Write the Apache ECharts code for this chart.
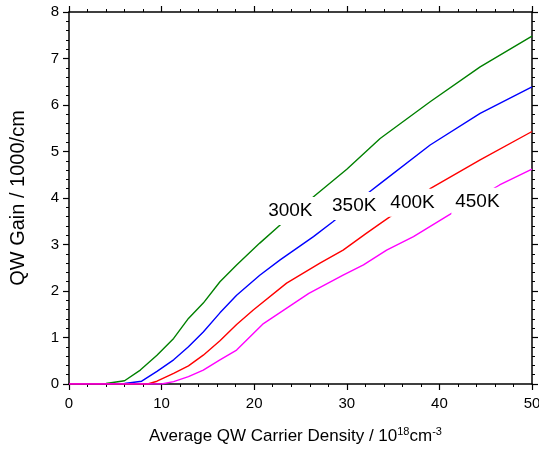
<!DOCTYPE html>
<html>
<head>
<meta charset="utf-8">
<script src="https://cdn.jsdelivr.net/npm/echarts@6/dist/echarts.min.js"></script>
<style>
html, body { margin: 0; padding: 0; background: #fff; }
#main { width: 539px; height: 451px; }
</style>
</head>
<body>
<div id="main"></div>
<script>
// curves: [density, gain]
var g300 = [[0,0],[2,0],[4,0.01],[6,0.07],[7.7,0.3],[9.5,0.62],[11.3,0.98],[12.9,1.41],[14.5,1.74],[16.3,2.2],[18.1,2.56],[20.6,3.03],[22.8,3.42],[26.6,4.06],[30,4.62],[33.6,5.28],[39,6.07],[44.4,6.82],[50,7.48]];
var g350 = [[0,0],[4,0],[6,0.01],[7.85,0.06],[9.5,0.27],[11.3,0.52],[12.9,0.8],[14.5,1.12],[16.3,1.53],[18.1,1.91],[20.6,2.34],[22.8,2.67],[26.4,3.17],[28.5,3.49],[32.5,4.14],[33.6,4.31],[39,5.14],[44.4,5.82],[50,6.39]];
var g400 = [[0,0],[6,0],[8.5,0],[9.5,0.06],[11.3,0.23],[12.9,0.39],[14.5,0.62],[16.3,0.93],[18.1,1.28],[19.9,1.59],[23.5,2.17],[27.1,2.6],[29.6,2.88],[32.1,3.24],[33.6,3.45],[39,4.2],[44.4,4.82],[50,5.43]];
var g450 = [[0,0],[8,0],[10,0],[11.3,0.05],[12.9,0.16],[14.5,0.3],[16.3,0.52],[18.1,0.73],[21,1.3],[25.9,1.95],[29.6,2.34],[31.8,2.56],[34.3,2.88],[37.2,3.17],[41,3.63],[46.5,4.28],[50,4.62]];
var names = ['300K', '350K', '400K', '450K'];
var labelPos = [[23.9, 3.72], [30.8, 3.83], [37.1, 3.9], [44.1, 3.92]];
var colors = ['#008000', '#0000ff', '#ff0000', '#ff00ff'];

var font = 'Liberation Sans, Arial, sans-serif';
var myChart = echarts.init(document.getElementById('main'));

function axisCommon(show) {
    return {
        axisLine: {show: true, onZero: false, lineStyle: {color: '#000', width: 1.5}},
        axisTick: {show: true, inside: false, length: 6, lineStyle: {color: '#000', width: 1.2}},
        minorTick: {show: true, splitNumber: 5, length: 3, lineStyle: {color: '#000', width: 1}},
        splitLine: {show: false},
        axisLabel: {show: show, color: '#000', fontSize: 15, fontFamily: font}
    };
}

var xMain = Object.assign(axisCommon(true), {
    type: 'value', min: 0, max: 50, interval: 10, position: 'bottom',
    name: '{n|Average QW Carrier Density / 10}{s|18}{n|cm}{s|-3}',
    nameLocation: 'middle', nameGap: 42,
    nameTextStyle: {
        padding: [0, 10, 0, 0],
        rich: {
            n: {fontSize: 17, fontFamily: font, color: '#000'},
            s: {fontSize: 11, fontFamily: font, color: '#000', verticalAlign: 'top', padding: [0, 0, 10, 0]}
        }
    }
});
xMain.axisLabel.margin = 12;
var xTop = Object.assign(axisCommon(false), {type: 'value', min: 0, max: 50, interval: 10, position: 'top'});

var yMain = Object.assign(axisCommon(true), {
    type: 'value', min: 0, max: 8, interval: 1, position: 'left',
    name: 'QW Gain / 1000/cm', nameLocation: 'middle', nameGap: 41,
    nameTextStyle: {fontSize: 20, fontFamily: font, color: '#000'}
});
yMain.axisLabel.margin = 10;
var yRight = Object.assign(axisCommon(false), {type: 'value', min: 0, max: 8, interval: 1, position: 'right'});

var curves = [g300, g350, g400, g450];
var series = curves.map(function (d, i) {
    return {
        name: names[i], type: 'line', data: d, showSymbol: false, symbol: 'none',
        lineStyle: {color: colors[i], width: 1.4}, z: 2, animation: false
    };
});
// temperature labels; white boxes break the curves like in the original
series.push({
    type: 'scatter', symbol: 'rect', symbolSize: [52, 28], z: 10, animation: false,
    itemStyle: {color: '#fff', opacity: 1},
    emphasis: {disabled: true},
    data: labelPos.map(function (p, i) { return {value: p, name: names[i]}; }),
    label: {
        show: true, position: 'inside', formatter: '{b}', color: '#000',
        fontSize: 19, fontFamily: font
    },
    labelLayout: {hideOverlap: false}
});

myChart.setOption({
    animation: false,
    backgroundColor: '#fff',
    grid: {left: 69, right: 7, top: 12, bottom: 67, outerBoundsMode: 'none'},
    xAxis: [xMain, xTop],
    yAxis: [yMain, yRight],
    series: series
});
</script>
</body>
</html>
